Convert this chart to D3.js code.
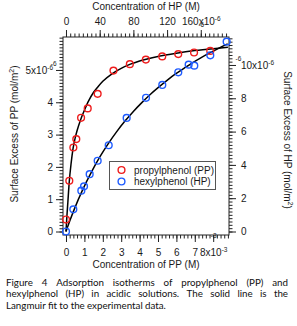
<!DOCTYPE html>
<html>
<head>
<meta charset="utf-8">
<script src="https://cdn.jsdelivr.net/npm/d3@7"></script>
<style>
body { margin: 0; background: #fff; }
svg { display: block; }
.axis text { font-family: "Liberation Sans", Arial, sans-serif; font-size: 10px; fill: #1a1a1a; }
.axis line { stroke: #222; stroke-width: 1; }
.title { font-family: "Liberation Sans", Arial, sans-serif; font-size: 10px; fill: #1a1a1a; }
.legend text { font-family: "Liberation Sans", Arial, sans-serif; font-size: 10px; fill: #1a1a1a; }
.caption { font-family: Lato, "Open Sans", sans-serif; fill: #111; }
</style>
</head>
<body>
<div id="chart"></div>
<script>
// Propylphenol (PP): concentration (x1e-3 M, bottom axis) vs surface excess (x1e-6 mol/m2, left axis)
var ppConc = [0.0, 0.18, 0.40, 0.56, 0.82, 1.18, 1.72, 2.58, 3.47, 4.34, 5.23, 6.10, 6.96, 7.84];
var ppSurf = [0.37, 1.57, 2.60, 2.86, 3.52, 3.81, 4.26, 4.98, 5.18, 5.32, 5.42, 5.49, 5.54, 5.59];

// Hexylphenol (HP): concentration (x1e-6 M, top axis) vs surface excess (x1e-6 mol/m2, right axis)
var hpConc = [0, 8.7, 18.2, 21.4, 28.1, 37.6, 50.7, 72.0, 95.0, 114.3, 133.3, 145.6, 152.3, 171.3, 190.7];
var hpSurf = [0, 1.33, 2.45, 2.71, 3.44, 4.25, 5.18, 6.82, 8.03, 8.80, 9.56, 10.02, 9.96, 10.58, 11.40];

// Langmuir fit lines
var ppFitConc = [0, 0.05, 0.1, 0.18, 0.28, 0.38, 0.5, 0.6, 0.8, 1.0, 1.2, 1.5, 1.75, 2.0, 2.5, 3.0, 3.5, 4.0, 5.0, 6.0, 7.0, 8.0, 8.8];
var ppFitSurf = [0, 0.48, 0.9, 1.56, 2.12, 2.56, 2.9, 3.12, 3.47, 3.75, 4.01, 4.31, 4.49, 4.65, 4.88, 5.05, 5.18, 5.28, 5.42, 5.52, 5.60, 5.66, 5.70];
var hpFitConc = [0, 5, 10, 20, 30, 40, 50, 60, 70, 80, 90, 100, 110, 120, 130, 140, 150, 160, 170, 180, 192];
var hpFitSurf = [0, 0.70, 1.36, 2.53, 3.55, 4.46, 5.26, 5.98, 6.63, 7.21, 7.74, 8.23, 8.67, 9.08, 9.46, 9.80, 10.13, 10.43, 10.71, 10.97, 11.27];

// Tick values
var ppConcTicks = [0, 1, 2, 3, 4, 5, 6, 7, 8];
var ppSurfTicks = [0, 1, 2, 3, 4, 5];
var hpConcTicks = [0, 40, 80, 120, 160];
var hpSurfTicks = [0, 2, 4, 6, 8, 10];

var legendLabels = ["propylphenol (PP)", "hexylphenol (HP)"];
var captionLines = [
    "Figure 4 Adsorption isotherms of propylphenol (PP) and",
    "hexylphenol (HP) in acidic solutions. The solid line is the",
    "Langmuir fit to the experimental data."
];

var width = 297, height = 326;
var box = {left: 63, right: 229, top: 37, bottom: 235};
var red = "#ee1c1c", blue = "#1f5cff";

var svg = d3.select("#chart").append("svg")
    .attr("width", width)
    .attr("height", height);

// Scales: each series has its own x and y axis
var xPP = d3.scaleLinear().domain([-0.163, 8.859]).range([box.left, box.right]);
var yPP = d3.scaleLinear().domain([-0.108, 6.02]).range([box.bottom, box.top]);
var xHP = d3.scaleLinear().domain([-3.56, 193.5]).range([box.left, box.right]);
var yHP = d3.scaleLinear().domain([-0.21, 11.68]).range([box.bottom, box.top]);

function range(a, b, step) {
    return d3.range(Math.round(a / step), Math.round(b / step) + 1).map(function(i) { return i * step; });
}

// Draw one axis with major and minor ticks, the last major label gets an exponent.
function drawAxis(axisFn, scale, transform, major, minor, pad, exp) {
    var g = svg.append("g").attr("class", "axis").attr("transform", transform);
    g.append("g").call(axisFn(scale).tickValues(minor).tickSize(3.5).tickFormat(""));
    g.append("g").call(axisFn(scale).tickValues(major).tickSize(7).tickPadding(pad)
        .tickFormat(function(d) { return d3.format("d")(d) + (d === major[major.length - 1] ? "x10" : ""); }));
    g.selectAll(".domain").remove();
    g.selectAll(".tick text").filter(function(d) { return d === major[major.length - 1]; })
        .append("tspan").attr("dy", "-4").attr("font-size", "6.5px").text(exp);
    return g;
}

drawAxis(d3.axisBottom, xPP, "translate(0," + box.bottom + ")", ppConcTicks, range(0, 8.8, 0.2), 7, "-3");
drawAxis(d3.axisLeft, yPP, "translate(" + box.left + ",0)", ppSurfTicks, range(0, 6, 0.1), 3, "-6");
drawAxis(d3.axisTop, xHP, "translate(0," + box.top + ")", hpConcTicks, range(0, 190, 5), 5, "-6");
drawAxis(d3.axisRight, yHP, "translate(" + box.right + ",0)", hpSurfTicks, range(0, 11.6, 0.2), 5, "-6");

// Plot frame
svg.append("rect")
    .attr("x", box.left).attr("y", box.top)
    .attr("width", box.right - box.left).attr("height", box.bottom - box.top)
    .attr("fill", "none").attr("stroke", "#222").attr("stroke-width", 1);

// Axis titles
var cx = (box.left + box.right) / 2;
svg.append("text").attr("class", "title").attr("x", cx).attr("y", 9.8)
    .attr("text-anchor", "middle").text("Concentration of HP (M)");
svg.append("text").attr("class", "title").attr("x", cx).attr("y", 268)
    .attr("text-anchor", "middle").text("Concentration of PP (M)");

function yTitle(x, y, angle, label) {
    var t = svg.append("text").attr("class", "title")
        .attr("transform", "translate(" + x + "," + y + ") rotate(" + angle + ")")
        .attr("text-anchor", "middle");
    t.append("tspan").text("Surface Excess of " + label + " (mol/m");
    t.append("tspan").attr("dy", "-4").attr("font-size", "7px").text("2");
    t.append("tspan").attr("dy", "4").text(")");
}
yTitle(17.5, 134, -90, "PP");
yTitle(283.5, 140, 90, "HP");

// Fit lines
var line = function(xs, ys) {
    return d3.line()
        .x(function(d) { return xs(d[0]); })
        .y(function(d) { return ys(d[1]); })
        .curve(d3.curveMonotoneX);
};
svg.append("path")
    .datum(d3.zip(ppFitConc, ppFitSurf))
    .attr("d", line(xPP, yPP))
    .attr("fill", "none").attr("stroke", "#000").attr("stroke-width", 1.5);
svg.append("path")
    .datum(d3.zip(hpFitConc, hpFitSurf))
    .attr("d", line(xHP, yHP))
    .attr("fill", "none").attr("stroke", "#000").attr("stroke-width", 1.5);

// Data markers
svg.append("g").selectAll("circle")
    .data(d3.zip(ppConc, ppSurf)).join("circle")
    .attr("cx", function(d) { return xPP(d[0]); })
    .attr("cy", function(d) { return yPP(d[1]); })
    .attr("r", 3.4).attr("fill", "none").attr("stroke", red).attr("stroke-width", 1.4);
svg.append("g").selectAll("circle")
    .data(d3.zip(hpConc, hpSurf)).join("circle")
    .attr("cx", function(d) { return xHP(d[0]); })
    .attr("cy", function(d) { return yHP(d[1]); })
    .attr("r", 3.4).attr("fill", "none").attr("stroke", blue).attr("stroke-width", 1.4);

// Legend
var legend = svg.append("g").attr("class", "legend");
legend.append("rect")
    .attr("x", 109.5).attr("y", 161.5).attr("width", 106).attr("height", 28)
    .attr("fill", "#fff").attr("stroke", "#555").attr("stroke-width", 1);
var entries = legend.selectAll("g.entry")
    .data([{label: legendLabels[0], color: red}, {label: legendLabels[1], color: blue}])
    .join("g").attr("class", "entry")
    .attr("transform", function(d, i) { return "translate(0," + (170 + i * 11.5) + ")"; });
entries.append("circle").attr("cx", 121.5).attr("cy", 0).attr("r", 3.4)
    .attr("fill", "none").attr("stroke", function(d) { return d.color; }).attr("stroke-width", 1.4);
entries.append("text").attr("x", 134).attr("y", 3.6).text(function(d) { return d.label; });

// Caption, justified like the original
var capLeft = 6, capRight = 288;
var capG = svg.append("g").attr("class", "caption");
var probe = capG.append("text").attr("font-size", "10px").text(captionLines[2]);
var fs = 10 * 161 / probe.node().getComputedTextLength();
probe.remove();
captionLines.forEach(function(txt, li) {
    var words = txt.split(" ");
    var y = 285.5 + li * 11.8;
    var nodes = words.map(function(w) {
        return capG.append("text").attr("font-size", fs + "px").attr("y", y).text(w);
    });
    var widths = nodes.map(function(n) { return n.node().getComputedTextLength(); });
    var space = fs * 0.23;
    if (li < captionLines.length - 1) {
        space = (capRight - capLeft - d3.sum(widths)) / (words.length - 1);
    }
    var x = capLeft;
    nodes.forEach(function(n, i) {
        n.attr("x", x);
        x += widths[i] + space;
    });
});
</script>
</body>
</html>
